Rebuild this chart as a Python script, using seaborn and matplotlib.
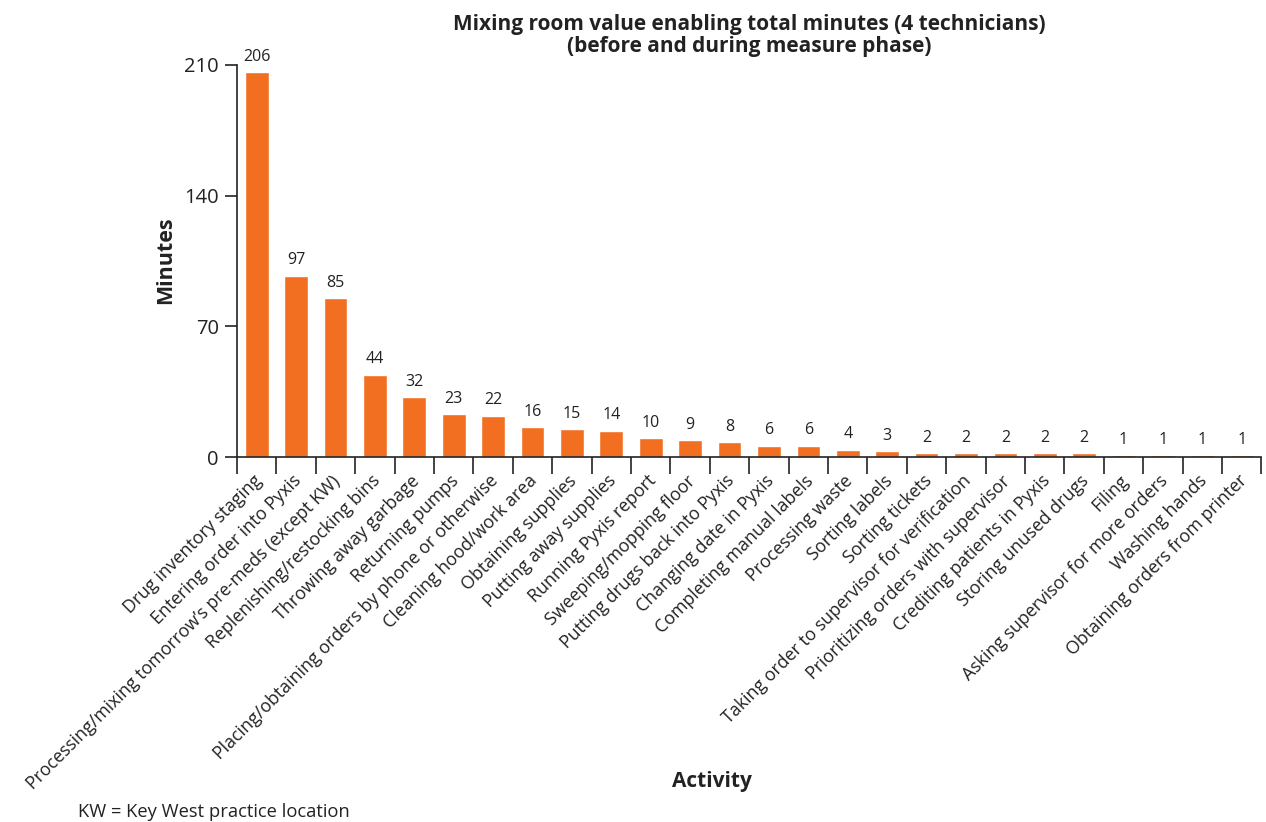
import matplotlib
matplotlib.use("Agg")
import matplotlib.pyplot as plt
import matplotlib.transforms as mtransforms
import seaborn as sns
import pandas as pd
import numpy as np
from matplotlib.ticker import FixedLocator

activities = [
    "Drug inventory staging",
    "Entering order into Pyxis",
    "Processing/mixing tomorrow\u2019s pre-meds (except KW)",
    "Replenishing/restocking bins",
    "Throwing away garbage",
    "Returning pumps",
    "Placing/obtaining orders by phone or otherwise",
    "Cleaning hood/work area",
    "Obtaining supplies",
    "Putting away supplies",
    "Running Pyxis report",
    "Sweeping/mopping floor",
    "Putting drugs back into Pyxis",
    "Changing date in Pyxis",
    "Completing manual labels",
    "Processing waste",
    "Sorting labels",
    "Sorting tickets",
    "Taking order to supervisor for verification",
    "Prioritizing orders with supervisor",
    "Crediting patients in Pyxis",
    "Storing unused drugs",
    "Filing",
    "Asking supervisor for more orders",
    "Washing hands",
    "Obtaining orders from printer",
]
minutes = [206, 97, 85, 44, 32, 23, 22, 16, 15, 14, 10, 9, 8, 6, 6, 4, 3, 2, 2, 2, 2, 2, 1, 1, 1, 1]
y_ticks = [0, 70, 140, 210]

sns.set_style("ticks")
plt.rcParams["font.family"] = ["Open Sans", "DejaVu Sans"]

df = pd.DataFrame({"Activity": activities, "Minutes": minutes})

fig = plt.figure(figsize=(12.66, 8.22), dpi=100)
ax = fig.add_axes([0.1872, 0.444, 0.8092, 0.477])

bar_color = "#F26F21"
ink = "#222222"
sns.barplot(data=df, x="Activity", y="Minutes", color=bar_color, width=0.6,
            saturation=1, ax=ax)

n = len(activities)
ax.set_xlim(-0.5, n - 0.5)
ax.set_ylim(0, 210)
ax.set_yticks(y_ticks)
ax.tick_params(axis="y", labelsize=14.5, length=9, width=1.2, color=ink,
               labelcolor=ink, pad=4)

# category labels without marks, tick marks between categories
ax.set_xticks(np.arange(n))
ax.set_xticklabels(activities, rotation=45, ha="right", va="top",
                   rotation_mode="anchor", fontsize=12.8, color=ink)
ax.tick_params(axis="x", which="major", length=0, pad=10)
shift = mtransforms.ScaledTranslation(-4 / 100, -1 / 100, fig.dpi_scale_trans)
for lbl in ax.get_xticklabels():
    lbl.set_transform(lbl.get_transform() + shift)
ax.xaxis.set_minor_locator(FixedLocator(np.arange(n + 1) - 0.5))
ax.tick_params(axis="x", which="minor", length=12, width=1.2, color=ink)

for s in ["top", "right"]:
    ax.spines[s].set_visible(False)
for s in ["left", "bottom"]:
    ax.spines[s].set_linewidth(1.2)
    ax.spines[s].set_color(ink)

for i, v in enumerate(minutes):
    ax.text(i, v + 4, str(v), ha="center", va="bottom", fontsize=11.5,
            color=ink, clip_on=False)

ax.set_xlabel("")
ax.set_ylabel("")
fig.text(0.131, 0.683, "Minutes", rotation=90, ha="center", va="center",
         fontsize=15.5, fontweight="bold", color=ink)
fig.text(0.5625, 0.049, "Activity", ha="center", va="center",
         fontsize=15, fontweight="bold", color=ink)
fig.text(0.592, 0.957,
         "Mixing room value enabling total minutes (4 technicians)\n(before and during measure phase)",
         ha="center", va="center", fontsize=15, fontweight="bold",
         color=ink, linespacing=1.05)
fig.text(0.062, 0.012, "KW = Key West practice location", ha="left",
         va="center", fontsize=13.2, color=ink)

fig.savefig("out.png", dpi=100)
